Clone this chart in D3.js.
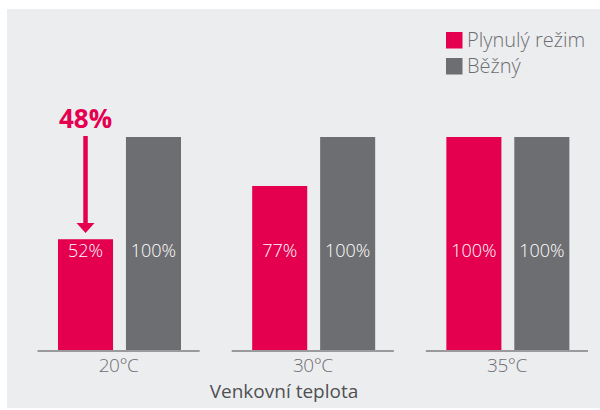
<!DOCTYPE html>
<meta charset="utf-8">
<style>
  body { margin: 0; background: #fff; }
  svg { font-family: "Open Sans", sans-serif; display: block; }
</style>
<body>
<script src="https://d3js.org/d3.v7.min.js"></script>
<script>

var temps = ["20°C", "30°C", "35°C"];
var seriesNames = ["Plynulý režim", "Běžný"];
var smooth = [52, 77, 100];
var normal = [100, 100, 100];
var saving = "48%";
var xTitle = "Venkovní teplota";

var colors = ["#e4004f", "#6d6e71"];

var width = 600, height = 410,
    baseY = 350, topY = 137;

var svg = d3.select("body").append("svg")
    .attr("width", width)
    .attr("height", height);

svg.append("rect")
    .attr("x", 7).attr("y", 9)
    .attr("width", width - 7).attr("height", 399)
    .attr("fill", "#ecedef");

var x0 = d3.scaleBand().domain(temps).range([37.5, 588]).paddingInner(0.165).paddingOuter(0);
var x1 = d3.scaleBand().domain(seriesNames).range([20.5, 143.5]).paddingInner(0.19);
var y = d3.scaleLinear().domain([0, 100]).range([baseY, topY]);

var data = temps.map(function(t, i) {
  return {temp: t, values: [smooth[i], normal[i]]};
});

// baseline segment under each group
svg.selectAll(".base")
    .data(temps)
  .enter().append("line")
    .attr("class", "base")
    .attr("x1", function(d) { return x0(d); })
    .attr("x2", function(d) { return x0(d) + x0.bandwidth(); })
    .attr("y1", baseY + 1).attr("y2", baseY + 1)
    .attr("stroke", "#9a9a9c")
    .attr("stroke-width", 2);

var g = svg.selectAll(".group")
    .data(data)
  .enter().append("g")
    .attr("class", "group")
    .attr("transform", function(d) { return "translate(" + x0(d.temp) + ",0)"; });

var bars = g.selectAll(".bar")
    .data(function(d) { return d.values.map(function(v, i) { return {name: seriesNames[i], value: v, i: i}; }); })
  .enter();

bars.append("rect")
    .attr("x", function(d) { return x1(d.name); })
    .attr("y", function(d) { return y(d.value); })
    .attr("width", x1.bandwidth())
    .attr("height", function(d) { return baseY - y(d.value); })
    .attr("fill", function(d) { return colors[d.i]; });

bars.append("text")
    .attr("x", function(d) { return x1(d.name) + x1.bandwidth() / 2; })
    .attr("y", 257)
    .attr("text-anchor", "middle")
    .attr("fill", "#fff")
    .attr("font-size", 18)
    .attr("font-weight", 300)
    .text(function(d) { return d.value + "%"; });

// category labels
svg.selectAll(".tick-label")
    .data(temps)
  .enter().append("text")
    .attr("class", "tick-label")
    .attr("x", function(d) { return x0(d) + x0.bandwidth() / 2; })
    .attr("y", 372)
    .attr("text-anchor", "middle")
    .attr("fill", "#6d6e71")
    .attr("font-size", 19)
    .attr("font-weight", 300)
    .attr("letter-spacing", -0.5)
    .text(function(d) { return d; });

svg.append("text")
    .attr("x", 284)
    .attr("y", 398)
    .attr("text-anchor", "middle")
    .attr("fill", "#505052")
    .attr("font-size", 19)
    .attr("font-weight", 500)
    .text(xTitle);

// saving annotation with arrow
var ax = x0(temps[0]) + x1(seriesNames[0]) + x1.bandwidth() / 2;
svg.append("text")
    .attr("x", ax)
    .attr("y", 128)
    .attr("text-anchor", "middle")
    .attr("fill", colors[0])
    .attr("font-size", 26)
    .attr("font-weight", 700)
    .text(saving);

svg.append("line")
    .attr("x1", ax).attr("x2", ax)
    .attr("y1", 136).attr("y2", 224)
    .attr("stroke", colors[0])
    .attr("stroke-width", 4.5);

svg.append("path")
    .attr("d", "M" + (ax - 9) + ",223L" + (ax + 9) + ",223L" + ax + ",233Z")
    .attr("fill", colors[0]);

// legend
var legend = svg.selectAll(".legend")
    .data(seriesNames)
  .enter().append("g")
    .attr("class", "legend")
    .attr("transform", function(d, i) { return "translate(446," + (32 + i * 26) + ")"; });

legend.append("rect")
    .attr("width", 16.5).attr("height", 16.5)
    .attr("fill", function(d, i) { return colors[i]; });

legend.append("text")
    .attr("x", 21).attr("y", 15)
    .attr("fill", "#6d6e71")
    .attr("font-size", 20)
    .attr("font-weight", 300)
    .text(function(d) { return d; });

</script>
</body>
